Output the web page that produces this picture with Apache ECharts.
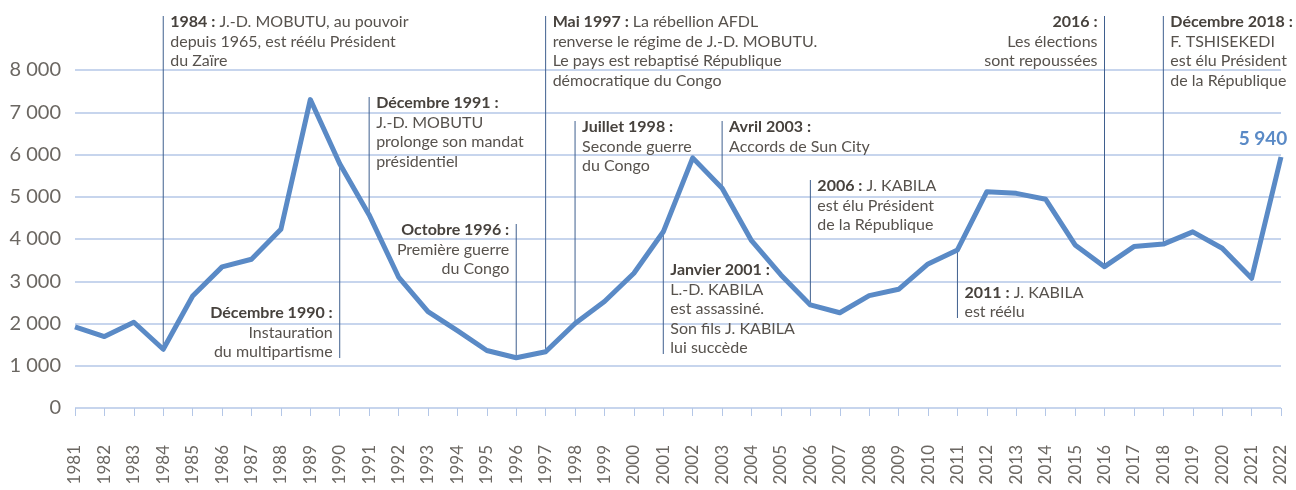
<!DOCTYPE html>
<html>
<head>
<meta charset="utf-8">
<script src="https://cdn.jsdelivr.net/npm/echarts@6/dist/echarts.min.js"></script>
<style>
  html, body { margin: 0; padding: 0; background: #fff; }
  #main { width: 1296px; height: 490px; }
</style>
</head>
<body>
<div id="main"></div>
<script>
// 年份（类目轴）
const years = ['1981', '1982', '1983', '1984', '1985', '1986', '1987', '1988', '1989', '1990',
  '1991', '1992', '1993', '1994', '1995', '1996', '1997', '1998', '1999', '2000',
  '2001', '2002', '2003', '2004', '2005', '2006', '2007', '2008', '2009', '2010',
  '2011', '2012', '2013', '2014', '2015', '2016', '2017', '2018', '2019', '2020',
  '2021', '2022']
// 折线数值
const values = [1920, 1690, 2030, 1390, 2650, 3340, 3520, 4230, 7300, 5780,
  4570, 3100, 2280, 1830, 1360, 1190, 1330, 2000, 2520, 3190,
  4170, 5920, 5200, 3960, 3150, 2440, 2255, 2660, 2810, 3410,
  3740, 5120, 5080, 4940, 3860, 3345, 3820, 3880, 4170, 3780,
  3070, 5940]
// y 轴刻度标签
const yTickLabels = ['0', '1 000', '2 000', '3 000', '4 000', '5 000', '6 000', '7 000', '8 000']

// 事件标注：年份 + 文本行（第一行冒号前为粗体）
const eventYears = ['1984', '1990', '1991', '1996', '1997', '1998', '2001', '2003', '2006', '2011', '2016', '2018']
const eventLines = [
  ['1984 : J.-D. MOBUTU, au pouvoir', 'depuis 1965, est réélu Président', 'du Zaïre'],
  ['Décembre 1990 :', 'Instauration', 'du multipartisme'],
  ['Décembre 1991 :', 'J.-D. MOBUTU', 'prolonge son mandat', 'présidentiel'],
  ['Octobre 1996 :', 'Première guerre', 'du Congo'],
  ['Mai 1997 : La rébellion AFDL', 'renverse le régime de J.-D. MOBUTU.', 'Le pays est rebaptisé République', 'démocratique du Congo'],
  ['Juillet 1998 :', 'Seconde guerre', 'du Congo'],
  ['Janvier 2001 :', 'L.-D. KABILA', 'est assassiné.', 'Son fils J. KABILA', 'lui succède'],
  ['Avril 2003 :', 'Accords de Sun City'],
  ['2006 : J. KABILA', 'est élu Président', 'de la République'],
  ['2011 : J. KABILA', 'est réélu'],
  ['2016 :', 'Les élections', 'sont repoussées'],
  ['Décembre 2018 :', 'F. TSHISEKEDI', 'est élu Président', 'de la République']
]
// 标注的布局（竖线末端像素 y、文字在左/右、方向）
const eventLayout = [
  { end: 16, side: 'right', dir: 'up' },
  { end: 358, side: 'left', dir: 'down' },
  { end: 97, side: 'right', dir: 'up' },
  { end: 224, side: 'left', dir: 'up' },
  { end: 16, side: 'right', dir: 'up' },
  { end: 121, side: 'right', dir: 'up' },
  { end: 354, side: 'right', dir: 'down' },
  { end: 121, side: 'right', dir: 'up' },
  { end: 180, side: 'right', dir: 'up' },
  { end: 318, side: 'right', dir: 'down' },
  { end: 16, side: 'left', dir: 'up' },
  { end: 16, side: 'right', dir: 'up' }
]

const fontFamily = 'Lato, "Noto Sans", sans-serif'
const lineBlue = '#5a8ac6'
const gridBlue = '#b4c7e7'
const textColor = '#57524d'
const boldColor = '#47423d'
const noteSize = 16

const formatNum = v => String(v).replace(/\B(?=(\d{3})+(?!\d))/g, ' ')

const chart = echarts.init(document.getElementById('main'))

// 最后一个点显示数值标签
const seriesData = values.map((v, i) => {
  if (i !== values.length - 1) return v
  return {
    value: v,
    label: {
      show: true,
      position: 'top',
      offset: [-18, -4],
      formatter: p => formatNum(p.value),
      color: lineBlue,
      fontFamily: fontFamily,
      fontWeight: 'bold',
      fontSize: 19
    }
  }
})

const option = {
  animation: false,
  grid: { left: 75, right: 15, top: 70, bottom: 82 },
  xAxis: {
    type: 'category',
    data: years,
    boundaryGap: false,
    offset: 12,
    axisLine: { show: false },
    axisTick: { show: true, length: 8, lineStyle: { color: gridBlue, width: 1 } },
    axisLabel: {
      rotate: 90,
      margin: 25,
      interval: 0,
      color: '#6b6762',
      fontFamily: fontFamily,
      fontSize: 17
    },
    splitLine: { show: false }
  },
  yAxis: {
    type: 'value',
    min: 0,
    max: 8000,
    interval: 1000,
    axisLine: { show: false },
    axisTick: { show: false },
    axisLabel: {
      margin: 14,
      color: '#6b6762',
      fontFamily: fontFamily,
      fontSize: 20,
      formatter: v => yTickLabels[Math.round(v / 1000)]
    },
    splitLine: { lineStyle: { color: gridBlue, width: 1.5 } }
  },
  series: [
    {
      type: 'line',
      data: seriesData,
      symbol: 'circle',
      symbolSize: 0,
      showSymbol: true,
      z: 3,
      lineStyle: { color: lineBlue, width: 5, join: 'round' }
    }
  ]
}
chart.setOption(option)

// 根据坐标轴换算出的像素位置画出标注竖线和文字
function buildEvents () {
  const elements = []
  const lh = 19.5
  eventYears.forEach((year, i) => {
    const idx = years.indexOf(year)
    const pt = chart.convertToPixel({ xAxisIndex: 0, yAxisIndex: 0 }, [year, values[idx]])
    const lay = eventLayout[i]
    elements.push({
      type: 'line',
      z: 1,
      shape: { x1: pt[0], y1: pt[1], x2: pt[0], y2: lay.end },
      style: { stroke: '#3f5f8e', lineWidth: 1 }
    })
    const lines = eventLines[i]
    const align = lay.side === 'right' ? 'left' : 'right'
    const x = lay.side === 'right' ? pt[0] + 7 : pt[0] - 7
    const baseRich = {
      b: { fontFamily: fontFamily, fontSize: noteSize, fontWeight: 'bold', fill: boldColor, align: align },
      n: { fontFamily: fontFamily, fontSize: noteSize, fill: textColor, align: align }
    }
    lines.forEach((l, k) => {
      let txt
      if (k === 0) {
        const p = l.indexOf(':')
        const rest = l.slice(p + 1)
        txt = '{b|' + l.slice(0, p + 1) + '}' + (rest ? '{n|' + rest + '}' : '')
      } else {
        txt = '{n|' + l + '}'
      }
      const y = lay.dir === 'up'
        ? lay.end + 6 + k * lh
        : lay.end - 6 - (lines.length - 1 - k) * lh
      elements.push({
        type: 'text',
        z: 5,
        style: {
          text: txt,
          x: x,
          y: y,
          rich: baseRich,
          align: align,
          textAlign: align,
          verticalAlign: 'middle',
          textVerticalAlign: 'middle',
          fontFamily: fontFamily,
          fontSize: noteSize,
          fill: textColor
        }
      })
    })
  })
  chart.setOption({ graphic: { elements: elements } })
}
buildEvents()
</script>
</body>
</html>
